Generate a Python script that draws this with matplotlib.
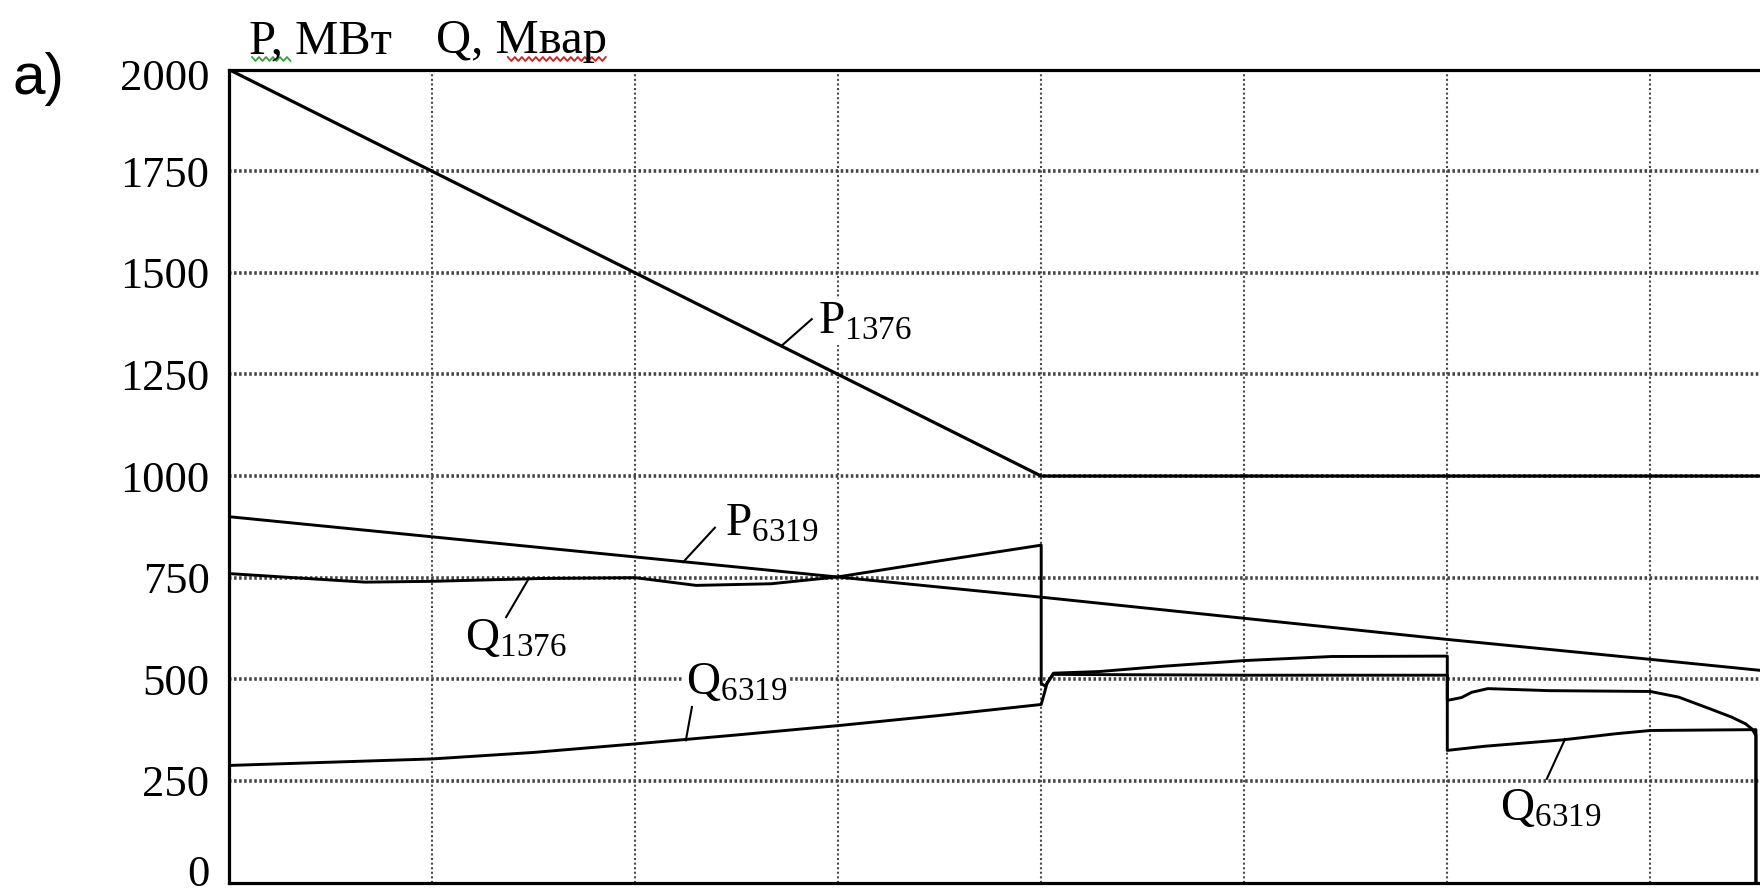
import matplotlib
matplotlib.use("Agg")
import matplotlib.pyplot as plt
import matplotlib.transforms as mtransforms
from matplotlib.lines import Line2D
import numpy as np

plt.rcParams['font.family'] = ['Liberation Serif', 'DejaVu Serif']
plt.rcParams['mathtext.fontset'] = 'custom'
plt.rcParams['mathtext.rm'] = 'Liberation Serif'
plt.rcParams['mathtext.it'] = 'Liberation Serif:italic'

# x is in grid divisions (the original has no x tick labels)
p1376_x = [0, 4.0, 7.54]
p1376_y = [2000, 1000, 1000]

p6319_x = [0, 4.0, 6.0, 7.0, 7.54]
p6319_y = [900, 702, 598, 549, 522]

q1376_x = [0, 0.35, 0.67, 1.0, 1.54, 2.0, 2.3, 2.67, 3.0, 3.52, 4.0, 4.0, 4.02,
           4.06, 4.285, 4.6, 5.0, 5.43, 6.0, 6.0, 6.07, 6.12, 6.2, 6.5, 7.0,
           7.14, 7.29, 7.4, 7.47, 7.5, 7.52, 7.52]
q1376_y = [760, 749, 739, 741, 748, 750, 731, 735, 752, 793, 830, 490, 483,
           515, 519, 532, 546, 556, 557, 448, 455, 468, 477, 472, 470,
           456, 428, 407, 390, 378, 362, 0]

q6319_x = [0, 1.0, 1.5, 2.0, 2.5, 3.0, 3.5, 4.0, 4.03, 4.06, 5.0, 6.0, 6.0,
           6.18, 6.57, 6.83, 7.0, 7.49, 7.52, 7.52]
q6319_y = [288, 304, 320, 341, 363, 386, 411, 438, 492, 512, 510, 510, 325,
           335, 351, 366, 374, 376, 376, 0]

y_ticks = [0, 250, 500, 750, 1000, 1250, 1500, 1750, 2000]
x_grid = [1, 2, 3, 4, 5, 6, 7]

# curve labels: text, text anchor (left, baseline), leader from curve -> to text
labels = ['P$_{1376}$', 'P$_{6319}$', 'Q$_{1376}$', 'Q$_{6319}$', 'Q$_{6319}$']
label_x = [2.90, 2.443, 1.163, 2.25, 6.26]
label_y = [1351, 854, 571, 465, 153]
lead_x0 = [2.72, 2.236, 1.473, 2.25, 6.58]
lead_y0 = [1320, 788, 745, 350, 353]
lead_x1 = [2.87, 2.393, 1.365, 2.28, 6.49]
lead_y1 = [1386, 873, 653, 432, 255]

fig = plt.figure(figsize=(17.6, 8.96), dpi=100)
ax = fig.add_axes([229 / 1760, 1 - 882.5 / 896, 1 - 229 / 1760, (882.5 - 69.6) / 896])

ax.set_xlim(0, 7.54)
ax.set_ylim(0, 2000)

for gx in x_grid:
    ax.axvline(gx, color='#4a4a4a', lw=1.5, ls=(0, (1, 1.2)), zorder=1)
for gy in y_ticks[1:-1]:
    ax.axhline(gy, color='#444444', lw=2.6, ls=(0, (0.7, 0.7)), zorder=1)

ax.plot(p1376_x, p1376_y, color='black', lw=2.3, zorder=3)
ax.plot(p6319_x, p6319_y, color='black', lw=2.1, zorder=3)
ax.plot(q1376_x, q1376_y, color='black', lw=2.1, zorder=3)
ax.plot(q6319_x, q6319_y, color='black', lw=2.1, zorder=3)

for i in range(len(labels)):
    ax.plot([lead_x0[i], lead_x1[i]], [lead_y0[i], lead_y1[i]], color='black', lw=1.5, zorder=3)
    ax.text(label_x[i], label_y[i], labels[i], fontsize=34, va='baseline', ha='left',
            zorder=2, bbox=dict(facecolor='white', edgecolor='none', pad=1))

ax.set_xticks([])
ax.set_yticks(y_ticks)
ax.set_yticklabels([str(v) for v in y_ticks])
ax.tick_params(axis='y', length=0, pad=14, labelsize=32)

# the "0" label sits a little above the axis line in the original
zero_lbl = ax.get_yticklabels()[0]
zero_lbl.set_transform(zero_lbl.get_transform() +
                       mtransforms.ScaledTranslation(0, 12 / 100, fig.dpi_scale_trans))
top_lbl = ax.get_yticklabels()[-1]
top_lbl.set_transform(top_lbl.get_transform() +
                      mtransforms.ScaledTranslation(0, -5 / 100, fig.dpi_scale_trans))

ax.spines['right'].set_visible(False)
for s in ['left', 'top', 'bottom']:
    ax.spines[s].set_linewidth(2.3)
    ax.spines[s].set_zorder(5)

t1 = fig.text(249 / 1760, 1 - 53 / 896, 'P, МВт', fontsize=35, va='baseline', ha='left')
t2 = fig.text(436 / 1760, 1 - 53 / 896, 'Q, Мвар', fontsize=35, va='baseline', ha='left')
fig.text(12 / 1760, 1 - 94 / 896, 'a)', fontsize=42, va='baseline', ha='left',
         family=['Liberation Sans', 'DejaVu Sans'])

# spell-check squiggles under the axis title (as in the source document)
fig.canvas.draw()
inv = fig.transFigure.inverted()
base_px = fig.get_figheight() * fig.dpi - 53


def squiggle(x0, x1, color):
    xs = np.arange(x0, x1 + 0.1, 3.5)
    ys = base_px - 4 + np.where(np.arange(len(xs)) % 2 == 0, 0, -4.0)
    pts = inv.transform(np.column_stack([xs, ys]))
    fig.add_artist(Line2D(pts[:, 0], pts[:, 1], color=color, lw=1.3))


b1 = t1.get_window_extent()
b2 = t2.get_window_extent()
squiggle(b1.x0 + 3, b1.x0 + 0.29 * b1.width, '#3aa040')
squiggle(b2.x0 + 0.42 * b2.width, b2.x1, '#d02020')

fig.savefig('out.png', dpi=100, facecolor='white')
